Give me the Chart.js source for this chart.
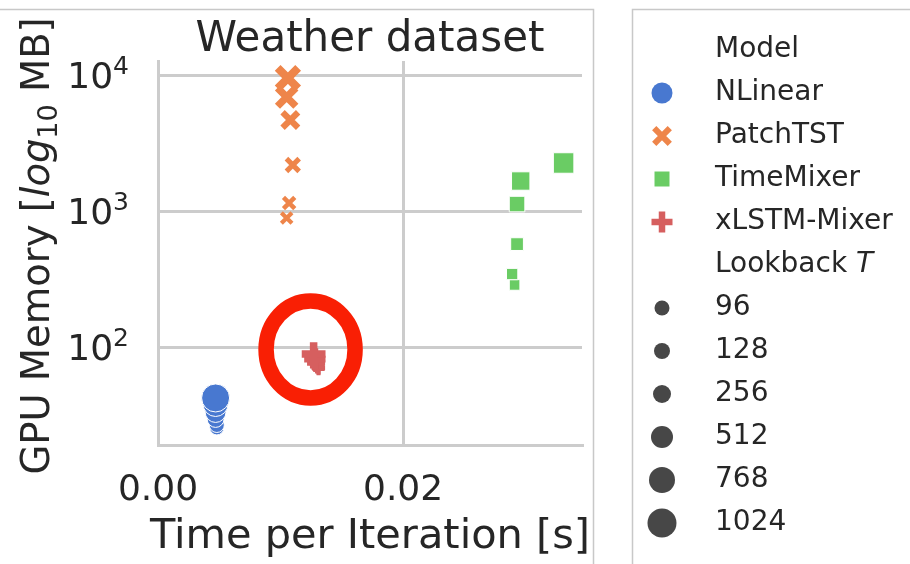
<!DOCTYPE html>
<html>
<head>
<meta charset="utf-8">
<script src="https://cdn.jsdelivr.net/npm/chart.js@4.4.1/dist/chart.umd.min.js"></script>
<style>
  html, body { margin: 0; padding: 0; background: #fff; }
  #wrap { width: 910px; height: 564px; }
</style>
</head>
<body>
<div id="wrap"><canvas id="chart" width="910" height="564"></canvas></div>
<script>
// --- DADOS ---
const lookbacks = [96, 128, 256, 512, 768, 1024];
const models = ['NLinear', 'PatchTST', 'TimeMixer', 'xLSTM-Mixer'];

const nlinearTime = [0.0048, 0.0048, 0.0047, 0.0047, 0.0047, 0.0047];
const nlinearMem = [25.4, 26.7, 29.6, 33.3, 38.1, 42.2];
const patchTime = [0.0105, 0.0107, 0.0110, 0.0108, 0.0105, 0.0106];
const patchMem = [889, 1146, 2180, 4670, 6890, 9505];
const mixerTime = [0.0291, 0.0289, 0.0293, 0.0293, 0.0296, 0.0331];
const mixerMem = [286, 344, 571, 1125, 1662, 2255];
const xlstmTime = [0.0131, 0.0131, 0.0130, 0.0129, 0.0128, 0.0127];
const xlstmMem = [68.9, 70.1, 72.4, 76.3, 81.6, 88.8];

const xTicks = [0, 0.02];
const xTickLabels = ['0.00', '0.02'];
const yTicks = [100, 1000, 10000];
const yTickBase = '10';
const yTickExp = ['2', '3', '4'];

const xTitle = 'Time per Iteration [s]';

// ponto destacado pelo círculo vermelho
const highlight = { x: 0.01245, y: 96 };

// --- ESTILO ---
const colors = ['#4878d0', '#ee854a', '#6acc64', '#d65f5f'];
const shapes = ['circle', 'crossRot', 'rect', 'cross'];
const sizeDiam = [15, 16, 18, 22, 26, 29];   // diâmetro por lookback
const textColor = '#262626';
const gridColor = '#cccccc';
const FONT = '"DejaVu Sans"';

Chart.defaults.font.family = FONT;
Chart.defaults.color = textColor;

function pts(xs, ys) {
    return xs.map((x, i) => ({ x: x, y: ys[i] }));
}

// desenha um marcador simples (usado na legenda)
function drawMarker(ctx, shape, color, x, y, r, w) {
    ctx.fillStyle = color;
    ctx.strokeStyle = color;
    ctx.lineWidth = w || 1;
    ctx.beginPath();
    if (shape === 'circle') {
        ctx.arc(x, y, r, 0, Math.PI * 2);
        ctx.fill();
    } else if (shape === 'rect') {
        const s = r * Math.SQRT1_2;
        ctx.rect(x - s, y - s, 2 * s, 2 * s);
        ctx.fill();
    } else if (shape === 'crossRot') {
        const d = r * Math.SQRT1_2;
        ctx.moveTo(x - d, y - d); ctx.lineTo(x + d, y + d);
        ctx.moveTo(x - d, y + d); ctx.lineTo(x + d, y - d);
        ctx.stroke();
    } else {
        ctx.moveTo(x - r, y); ctx.lineTo(x + r, y);
        ctx.moveTo(x, y - r); ctx.lineTo(x, y + r);
        ctx.stroke();
    }
}

// molduras dos dois painéis
const panelPlugin = {
    id: 'panels',
    beforeDraw(chart) {
        const ctx = chart.ctx;
        ctx.save();
        ctx.fillStyle = '#fff';
        ctx.fillRect(0, 0, chart.width, chart.height);
        ctx.strokeStyle = '#c8c8c8';
        ctx.lineWidth = 1.5;
        ctx.beginPath();
        ctx.moveTo(0, 9.5); ctx.lineTo(593.5, 9.5); ctx.lineTo(593.5, 564);
        ctx.moveTo(632.5, 564); ctx.lineTo(632.5, 9.5); ctx.lineTo(910, 9.5);
        ctx.stroke();
        ctx.restore();
    }
};

// rótulos do eixo Y no formato 10^n (expoente elevado)
const yTickPlugin = {
    id: 'yTickLabels',
    afterDraw(chart) {
        const ctx = chart.ctx;
        const scale = chart.scales.y;
        const right = 129;
        ctx.save();
        ctx.fillStyle = textColor;
        ctx.textBaseline = 'alphabetic';
        ctx.textAlign = 'left';
        yTicks.forEach((v, i) => {
            const py = scale.getPixelForValue(v);
            ctx.font = `25px ${FONT}`;
            const we = ctx.measureText(yTickExp[i]).width;
            ctx.font = `36px ${FONT}`;
            const wb = ctx.measureText(yTickBase).width;
            const x0 = right - we - wb;
            const base = py + 13;
            ctx.fillText(yTickBase, x0, base);
            ctx.font = `25px ${FONT}`;
            ctx.fillText(yTickExp[i], x0 + wb, base - 14);
        });
        ctx.restore();
    }
};

// títulos dos eixos (o do Y com "log" em itálico e subscrito)
const axisTitlePlugin = {
    id: 'axisTitles',
    afterDraw(chart) {
        const ctx = chart.ctx;
        const area = chart.chartArea;
        ctx.save();
        ctx.fillStyle = textColor;
        ctx.textBaseline = 'alphabetic';

        // eixo X (sem compressão de largura)
        ctx.font = `41.5px ${FONT}`;
        ctx.textAlign = 'center';
        ctx.fillText(xTitle, (area.left + area.right) / 2, 548);

        // eixo Y
        ctx.textAlign = 'left';
        const size = 38.5;
        const parts = [
            { t: 'GPU Memory [', f: `${size}px ${FONT}`, dy: 0 },
            { t: 'log', f: `italic ${size}px ${FONT}`, dy: 0 },
            { t: '10', f: `${Math.round(size * 0.7)}px ${FONT}`, dy: size * 0.22 },
            { t: ' MB]', f: `${size}px ${FONT}`, dy: 0 }
        ];
        let total = 0;
        parts.forEach(p => { ctx.font = p.f; p.w = ctx.measureText(p.t).width; total += p.w; });
        ctx.translate(49, 246);
        ctx.rotate(-Math.PI / 2);
        let x = -total / 2;
        parts.forEach(p => {
            ctx.font = p.f;
            ctx.fillText(p.t, x, p.dy);
            x += p.w;
        });
        ctx.restore();
    }
};

// círculo vermelho de destaque
const ringPlugin = {
    id: 'ring',
    afterDatasetsDraw(chart) {
        const ctx = chart.ctx;
        const cx = chart.scales.x.getPixelForValue(highlight.x);
        const cy = chart.scales.y.getPixelForValue(highlight.y);
        ctx.save();
        ctx.strokeStyle = '#f91f04';
        ctx.lineWidth = 15.5;
        ctx.beginPath();
        ctx.ellipse(cx, cy, 44.5, 48.5, 0, 0, Math.PI * 2);
        ctx.stroke();
        ctx.restore();
    }
};

// legenda lateral (modelo + lookback)
const legendPlugin = {
    id: 'sideLegend',
    afterDraw(chart) {
        const ctx = chart.ctx;
        const mx = 662, tx = 715, row0 = 50, step = 43;
        const legendR = [10.5, 11, 10.6, 10.5];
        const legendW = [0, 6, 0, 6.5];
        ctx.save();
        ctx.font = `28px ${FONT}`;
        ctx.textBaseline = 'middle';
        ctx.textAlign = 'left';
        ctx.fillStyle = textColor;
        ctx.fillText('Model', tx, row0);
        models.forEach((m, i) => {
            const y = row0 + step * (i + 1);
            drawMarker(ctx, shapes[i], colors[i], mx, y, legendR[i], legendW[i]);
            ctx.fillStyle = textColor;
            ctx.fillText(m, tx, y);
        });
        let y = row0 + step * 5;
        ctx.fillStyle = textColor;
        ctx.fillText('Lookback ', tx, y);
        const w = ctx.measureText('Lookback ').width;
        ctx.font = `italic 28px ${FONT}`;
        ctx.fillText('T', tx + w, y);
        ctx.font = `28px ${FONT}`;
        lookbacks.forEach((lb, i) => {
            y = row0 + step * (6 + i);
            drawMarker(ctx, 'circle', '#474747', mx, y, sizeDiam[i] / 2);
            ctx.fillStyle = textColor;
            ctx.fillText(String(lb), tx, y);
        });
        ctx.restore();
    }
};

const datasets = [
    {
        label: models[0], data: pts(nlinearTime, nlinearMem),
        pointStyle: 'circle',
        pointBackgroundColor: colors[0], pointBorderColor: '#fff', pointBorderWidth: 1,
        pointRadius: c => sizeDiam[c.dataIndex] / 2 - 0.5
    },
    {
        label: models[1], data: pts(patchTime, patchMem),
        pointStyle: 'crossRot',
        pointBackgroundColor: colors[1], pointBorderColor: colors[1],
        pointRadius: c => sizeDiam[c.dataIndex] / 2,
        pointBorderWidth: c => sizeDiam[c.dataIndex] * 0.28
    },
    {
        label: models[2], data: pts(mixerTime, mixerMem),
        pointStyle: 'rect',
        pointBackgroundColor: colors[2], pointBorderColor: '#fff', pointBorderWidth: 1,
        pointRadius: c => sizeDiam[c.dataIndex] / 2
    },
    {
        label: models[3], data: pts(xlstmTime, xlstmMem),
        pointStyle: 'cross',
        pointBackgroundColor: colors[3], pointBorderColor: colors[3],
        pointRadius: c => sizeDiam[c.dataIndex] * 0.41,
        pointBorderWidth: c => sizeDiam[c.dataIndex] * 0.26
    }
];

new Chart(document.getElementById('chart'), {
    type: 'scatter',
    data: { datasets: datasets },
    options: {
        responsive: false,
        animation: false,
        events: [],
        layout: { padding: { left: 0, right: 328, top: 0, bottom: 0 } },
        plugins: {
            legend: { display: false },
            tooltip: { enabled: false },
            title: {
                display: true, text: 'Weather dataset', fullSize: false,
                color: textColor,
                font: { size: 42, weight: 'normal', lineHeight: 1 },
                padding: { top: 19, bottom: 0 }
            }
        },
        scales: {
            x: {
                type: 'linear', min: 0, max: 0.0346,
                afterBuildTicks: s => { s.ticks = xTicks.map(v => ({ value: v })); },
                afterFit: s => { s.height = 119; },
                grid: { color: gridColor, lineWidth: 3, drawTicks: false },
                border: { display: true, color: gridColor, width: 3 },
                ticks: {
                    padding: 24, color: textColor, font: { size: 36 },
                    maxRotation: 0, autoSkip: false,
                    callback: (v, i) => xTickLabels[i]
                },
                title: { display: false }
            },
            y: {
                type: 'logarithmic', min: 19.03, max: 12680,
                afterBuildTicks: s => { s.ticks = yTicks.map(v => ({ value: v })); },
                afterFit: s => { s.width = 158; },
                grid: { color: gridColor, lineWidth: 3, drawTicks: false },
                border: { display: true, color: gridColor, width: 3 },
                ticks: { display: false },
                title: { display: false }
            }
        }
    },
    plugins: [panelPlugin, ringPlugin, yTickPlugin, axisTitlePlugin, legendPlugin]
});
</script>
</body>
</html>
